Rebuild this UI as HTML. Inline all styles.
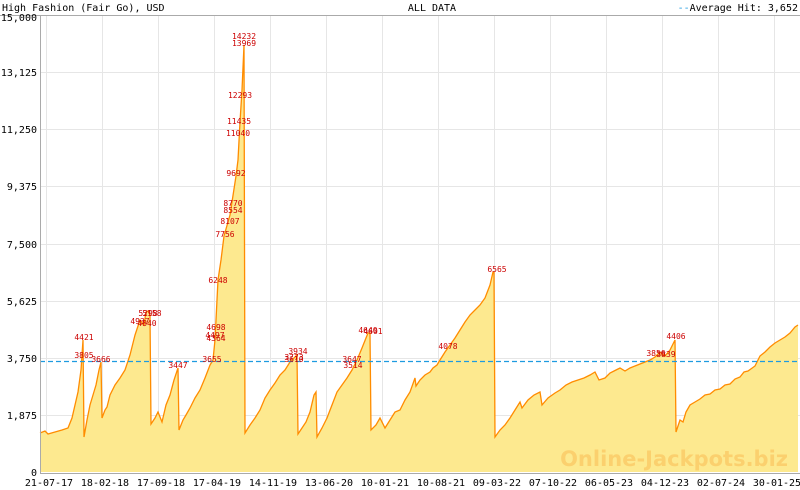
<!DOCTYPE html>
<html><head><meta charset="utf-8"><style>
body{margin:0;background:#fff}
svg{display:block}
text{font-family:"DejaVu Sans Mono","Liberation Mono",monospace}
</style></head><body>
<svg width="800" height="490" viewBox="0 0 800 490" xmlns="http://www.w3.org/2000/svg">
<rect width="800" height="490" fill="#fff"/>
<line x1="0" y1="15.5" x2="800" y2="15.5" stroke="#aaa"/>
<text x="2" y="11" font-size="10" fill="#000">High Fashion (Fair Go), USD</text>
<text x="432" y="11" font-size="10" fill="#000" text-anchor="middle">ALL DATA</text>
<text x="798" y="11" font-size="10" fill="#000" text-anchor="end"><tspan fill="#1e9be0">--</tspan>Average Hit: 3,652</text>
<g stroke="#e6e6e6" stroke-width="1">
<line x1="40" y1="72.5" x2="800" y2="72.5"/>
<line x1="40" y1="129.5" x2="800" y2="129.5"/>
<line x1="40" y1="186.5" x2="800" y2="186.5"/>
<line x1="40" y1="244.5" x2="800" y2="244.5"/>
<line x1="40" y1="301.5" x2="800" y2="301.5"/>
<line x1="40" y1="358.5" x2="800" y2="358.5"/>
<line x1="40" y1="415.5" x2="800" y2="415.5"/>
<line x1="46.5" y1="16" x2="46.5" y2="472"/><line x1="102.5" y1="16" x2="102.5" y2="472"/>
<line x1="158.5" y1="16" x2="158.5" y2="472"/><line x1="214.5" y1="16" x2="214.5" y2="472"/>
<line x1="270.5" y1="16" x2="270.5" y2="472"/><line x1="326.5" y1="16" x2="326.5" y2="472"/>
<line x1="382.5" y1="16" x2="382.5" y2="472"/><line x1="438.5" y1="16" x2="438.5" y2="472"/>
<line x1="494.5" y1="16" x2="494.5" y2="472"/><line x1="550.5" y1="16" x2="550.5" y2="472"/>
<line x1="606.5" y1="16" x2="606.5" y2="472"/><line x1="662.5" y1="16" x2="662.5" y2="472"/>
<line x1="718.5" y1="16" x2="718.5" y2="472"/><line x1="774.5" y1="16" x2="774.5" y2="472"/>
</g>
<path fill="#fde98f" stroke="none" d="M40,472 L40,433 L45,431 L48,434 L55,432 L62,430 L68,428 L72,418 L75,405 L78,392 L81,370 L83,340 L84,437 L87,420 L90,405 L93,395 L96,385 L99,370 L101,362 L102,418 L105,410 L107,407 L110,395 L115,385 L120,378 L125,370 L130,355 L135,335 L140,320 L144,325 L146,312 L148,311 L150,315 L151,424 L155,418 L158,412 L162,422 L166,405 L170,395 L174,380 L178,368 L179,430 L183,420 L186,415 L190,408 L195,398 L200,390 L205,378 L210,365 L213,360 L215,340 L218,280 L221,260 L224,236 L230,215 L236,176 L238,160 L240,122 L242,90 L244,45 L245,433 L250,425 L255,418 L260,410 L265,398 L270,390 L275,383 L280,375 L285,370 L290,362 L295,357 L297,355 L298,434 L302,428 L306,422 L310,412 L314,395 L316,392 L317,437 L322,428 L327,418 L332,405 L337,392 L342,385 L347,378 L352,370 L357,360 L362,348 L366,338 L368,333 L370,333 L371,430 L376,425 L380,418 L385,428 L390,420 L395,412 L400,410 L405,400 L410,392 L415,378 L416,386 L420,380 L425,375 L430,372 L433,368 L437,365 L440,360 L445,352 L450,345 L455,338 L460,330 L465,322 L470,315 L475,310 L480,305 L485,298 L490,285 L493,272 L494,272 L495,437 L500,430 L505,425 L510,418 L515,410 L520,402 L522,408 L528,400 L534,395 L540,392 L542,405 L548,398 L555,393 L560,390 L566,385 L572,382 L578,380 L584,378 L590,375 L595,372 L599,380 L605,378 L610,373 L616,370 L620,368 L625,371 L630,368 L640,364 L650,360 L655,357 L660,352 L665,356 L670,350 L675,340 L676,432 L680,420 L683,422 L686,412 L690,405 L695,402 L700,399 L705,395 L710,394 L715,390 L720,389 L725,385 L730,384 L735,379 L740,377 L744,372 L748,371 L755,366 L760,356 L765,352 L770,347 L775,343 L780,340 L785,337 L790,333 L795,327 L798,325 L798,472 Z"/>
<text x="788" y="466" font-size="21" font-weight="bold" fill="#fbd06e" text-anchor="end" style="font-family:'DejaVu Sans','Liberation Sans',sans-serif">Online-Jackpots.biz</text>
<path fill="none" stroke="#ff8c00" stroke-width="1.3" d="M40,433 L45,431 L48,434 L55,432 L62,430 L68,428 L72,418 L75,405 L78,392 L81,370 L83,340 L84,437 L87,420 L90,405 L93,395 L96,385 L99,370 L101,362 L102,418 L105,410 L107,407 L110,395 L115,385 L120,378 L125,370 L130,355 L135,335 L140,320 L144,325 L146,312 L148,311 L150,315 L151,424 L155,418 L158,412 L162,422 L166,405 L170,395 L174,380 L178,368 L179,430 L183,420 L186,415 L190,408 L195,398 L200,390 L205,378 L210,365 L213,360 L215,340 L218,280 L221,260 L224,236 L230,215 L236,176 L238,160 L240,122 L242,90 L244,45 L245,433 L250,425 L255,418 L260,410 L265,398 L270,390 L275,383 L280,375 L285,370 L290,362 L295,357 L297,355 L298,434 L302,428 L306,422 L310,412 L314,395 L316,392 L317,437 L322,428 L327,418 L332,405 L337,392 L342,385 L347,378 L352,370 L357,360 L362,348 L366,338 L368,333 L370,333 L371,430 L376,425 L380,418 L385,428 L390,420 L395,412 L400,410 L405,400 L410,392 L415,378 L416,386 L420,380 L425,375 L430,372 L433,368 L437,365 L440,360 L445,352 L450,345 L455,338 L460,330 L465,322 L470,315 L475,310 L480,305 L485,298 L490,285 L493,272 L494,272 L495,437 L500,430 L505,425 L510,418 L515,410 L520,402 L522,408 L528,400 L534,395 L540,392 L542,405 L548,398 L555,393 L560,390 L566,385 L572,382 L578,380 L584,378 L590,375 L595,372 L599,380 L605,378 L610,373 L616,370 L620,368 L625,371 L630,368 L640,364 L650,360 L655,357 L660,352 L665,356 L670,350 L675,340 L676,432 L680,420 L683,422 L686,412 L690,405 L695,402 L700,399 L705,395 L710,394 L715,390 L720,389 L725,385 L730,384 L735,379 L740,377 L744,372 L748,371 L755,366 L760,356 L765,352 L770,347 L775,343 L780,340 L785,337 L790,333 L795,327 L798,325"/>
<line x1="40" y1="361.5" x2="800" y2="361.5" stroke="#1e9be0" stroke-width="1.2" stroke-dasharray="5,3"/>
<line x1="40.5" y1="15" x2="40.5" y2="473" stroke="#aaa"/>
<line x1="40" y1="473.5" x2="800" y2="473.5" stroke="#aaa"/>
<g font-size="10" fill="#000" text-anchor="end">
<text x="37" y="21">15,000</text><text x="37" y="76">13,125</text><text x="37" y="133">11,250</text>
<text x="37" y="190">9,375</text><text x="37" y="248">7,500</text><text x="37" y="305">5,625</text>
<text x="37" y="362">3,750</text><text x="37" y="419">1,875</text><text x="37" y="476">0</text>
</g>
<g font-size="10" fill="#000" text-anchor="middle">
<text x="49" y="486">21-07-17</text><text x="105" y="486">18-02-18</text><text x="161" y="486">17-09-18</text>
<text x="217" y="486">17-04-19</text><text x="273" y="486">14-11-19</text><text x="329" y="486">13-06-20</text>
<text x="385" y="486">10-01-21</text><text x="441" y="486">10-08-21</text><text x="497" y="486">09-03-22</text>
<text x="553" y="486">07-10-22</text><text x="609" y="486">06-05-23</text><text x="665" y="486">04-12-23</text>
<text x="721" y="486">02-07-24</text><text x="777" y="486">30-01-25</text>
</g>
<g font-size="8" fill="#cc0000" text-anchor="middle">
<text x="84" y="340">4421</text><text x="84" y="358">3805</text><text x="101" y="362">3666</text>
<text x="140" y="324">4937</text><text x="148" y="316">5298</text><text x="152" y="316">5158</text><text x="147" y="326">4840</text>
<text x="178" y="368">3447</text><text x="212" y="362">3655</text>
<text x="216" y="330">4698</text><text x="215" y="338">4497</text><text x="216" y="341">4364</text>
<text x="218" y="283">6248</text><text x="225" y="237">7756</text><text x="230" y="224">8107</text>
<text x="233" y="213">8554</text><text x="233" y="206">8770</text><text x="236" y="176">9692</text>
<text x="238" y="136">11040</text><text x="239" y="124">11435</text><text x="240" y="98">12293</text>
<text x="244" y="46">13969</text><text x="244" y="39">14232</text>
<text x="298" y="354">3934</text><text x="294" y="360">3773</text><text x="294" y="362">3610</text>
<text x="352" y="362">3647</text><text x="353" y="368">3514</text>
<text x="368" y="333">4640</text><text x="373" y="334">4601</text>
<text x="448" y="349">4078</text><text x="497" y="272">6565</text>
<text x="656" y="356">3856</text><text x="666" y="357">3839</text><text x="676" y="339">4406</text>
</g>
</svg>
</body></html>
